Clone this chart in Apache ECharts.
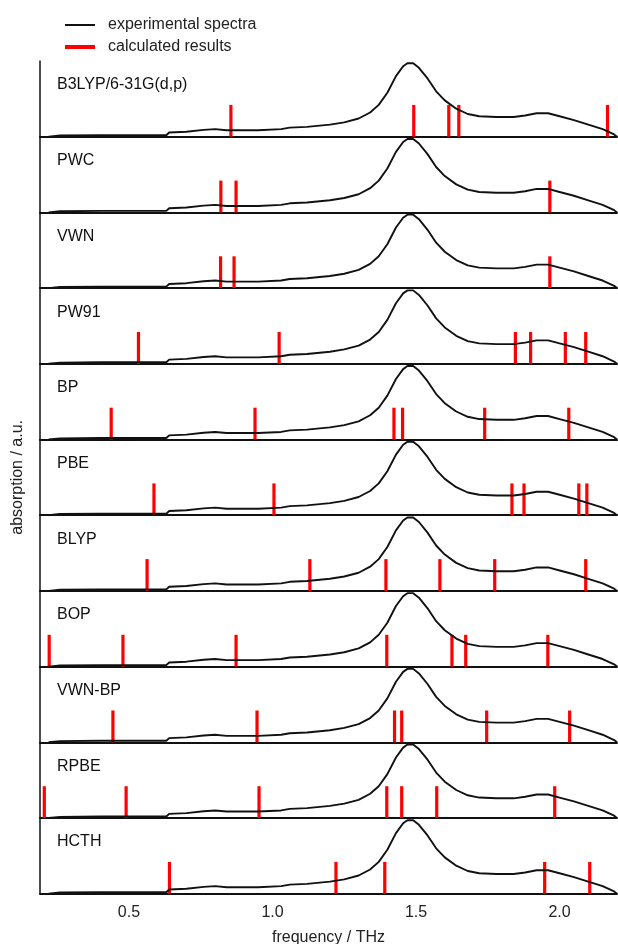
<!DOCTYPE html>
<html>
<head>
<meta charset="utf-8">
<script src="https://cdn.jsdelivr.net/npm/echarts@6/dist/echarts.min.js"></script>
<style>
  html, body { margin: 0; padding: 0; background: #fff; }
  #chart { width: 618px; height: 944px; }
</style>
</head>
<body>
<div id="chart"></div>
<script>
// panel names, top to bottom
var methods = ['B3LYP/6-31G(d,p)', 'PWC', 'VWN', 'PW91', 'BP', 'PBE', 'BLYP', 'BOP', 'VWN-BP', 'RPBE', 'HCTH'];

// experimental spectrum (THz, relative absorption)
var specFreq = [0.22, 0.26, 0.40, 0.63, 0.64, 0.70, 0.76, 0.80, 0.84, 0.95, 1.03, 1.06, 1.12, 1.20, 1.25,
  1.30, 1.34, 1.37, 1.40, 1.43, 1.455, 1.47, 1.49, 1.51, 1.54, 1.57, 1.60, 1.64, 1.68, 1.72,
  1.78, 1.84, 1.88, 1.92, 1.96, 2.00, 2.05, 2.10, 2.15, 2.19, 2.20];
var specAbs = [0.0, 0.015, 0.02, 0.02, 0.055, 0.065, 0.09, 0.10, 0.085, 0.085, 0.10, 0.12, 0.13, 0.16, 0.19,
  0.24, 0.32, 0.42, 0.58, 0.80, 0.93, 0.97, 0.97, 0.91, 0.77, 0.60, 0.48, 0.37, 0.30, 0.27,
  0.26, 0.26, 0.28, 0.31, 0.31, 0.27, 0.22, 0.16, 0.10, 0.03, 0.0];

// calculated frequencies (THz)
var b3lyp = [0.855, 1.492, 1.614, 1.649, 2.167];
var pwc = [0.820, 0.873, 1.966];
var vwn = [0.819, 0.866, 1.966];
var pw91 = [0.533, 1.023, 1.846, 1.899, 2.020, 2.091];
var bp = [0.438, 0.939, 1.423, 1.453, 1.739, 2.032];
var pbe = [0.587, 1.005, 1.834, 1.876, 2.067, 2.095];
var blyp = [0.563, 1.130, 1.395, 1.583, 1.774, 2.091];
var bop = [0.222, 0.479, 0.873, 1.398, 1.625, 1.673, 1.959];
var vwnbp = [0.444, 0.946, 1.425, 1.450, 1.746, 2.035];
var rpbe = [0.205, 0.490, 0.953, 1.398, 1.450, 1.572, 1.983];
var hcth = [0.641, 1.221, 1.391, 1.948, 2.105];
var calculated = [b3lyp, pwc, vwn, pw91, bp, pbe, blyp, bop, vwnbp, rpbe, hcth];

var tickValues = [0.5, 1.0, 1.5, 2.0];

var panelTop = 61;
var panelH = 75.7;
var barH = 0.42;
var font = 'Liberation Sans, Arial, sans-serif';

var chart = echarts.init(document.getElementById('chart'));

var spectrum = specFreq.map(function (f, i) { return [f, specAbs[i]]; });

var grids = [], xAxes = [], yAxes = [], series = [], titles = [];

methods.forEach(function (name, i) {
  var last = i === methods.length - 1;
  // outerBoundsMode none: keep every panel exactly where it is put
  grids.push({ left: 40, width: 577, top: panelTop + i * panelH, height: panelH, outerBoundsMode: 'none', containLabel: false });

  xAxes.push({
    type: 'value', gridIndex: i, min: 0.19, max: 2.2,
    axisLine: { show: true, onZero: false, lineStyle: { color: '#111', width: 2 } },
    axisTick: { show: false },
    splitLine: { show: false },
    axisLabel: last ? {
      show: true, customValues: tickValues, margin: 11,
      color: '#222', fontSize: 16, fontFamily: font,
      formatter: function (v) { return v.toFixed(1); }
    } : { show: false },
    name: last ? 'frequency / THz' : '',
    nameLocation: 'middle', nameGap: 36,
    nameTextStyle: { color: '#222', fontSize: 16, fontFamily: font }
  });

  yAxes.push({
    type: 'value', gridIndex: i, min: 0, max: 1,
    axisLine: { show: true, lineStyle: { color: '#111', width: 1.5 } },
    axisTick: { show: false },
    axisLabel: { show: false },
    splitLine: { show: false },
    name: i === 5 ? 'absorption / a.u.' : '',
    nameLocation: 'middle', nameGap: 14, nameRotate: 90,
    nameTextStyle: { color: '#222', fontSize: 16, fontFamily: font }
  });

  titles.push({
    text: name, left: 52, top: panelTop + i * panelH + 11,
    textStyle: { color: '#111', fontSize: 16, fontWeight: 'normal', fontFamily: font }
  });

  series.push({
    name: 'experimental spectra', type: 'line',
    xAxisIndex: i, yAxisIndex: i,
    data: spectrum, showSymbol: false, symbol: 'none',
    lineStyle: { color: '#111', width: 1.9 },
    itemStyle: { color: '#111' },
    silent: true, animation: false
  });

  series.push({
    name: 'calculated results', type: 'custom',
    xAxisIndex: i, yAxisIndex: i,
    data: calculated[i].map(function (f) { return [f, barH]; }),
    itemStyle: { color: '#ff0000' },
    renderItem: function (params, api) {
      var p0 = api.coord([api.value(0), 0]);
      var p1 = api.coord([api.value(0), api.value(1)]);
      return {
        type: 'rect',
        shape: { x: p0[0] - 1.6, y: p1[1], width: 3.2, height: p0[1] - p1[1] },
        style: { fill: '#ff0000' }
      };
    },
    silent: true, animation: false, z: 3
  });
});

var legendText = { color: '#222', fontSize: 16, fontFamily: font, padding: [0, 0, 0, 8] };

chart.setOption({
  backgroundColor: '#fff',
  animation: false,
  title: titles,
  legend: [
    {
      data: ['experimental spectra'], left: 60, top: 12,
      icon: 'rect', itemWidth: 30, itemHeight: 2,
      itemStyle: { color: '#111' }, textStyle: legendText
    },
    {
      data: ['calculated results'], left: 60, top: 34,
      icon: 'rect', itemWidth: 30, itemHeight: 4,
      itemStyle: { color: '#ff0000' }, textStyle: legendText
    }
  ],
  grid: grids,
  xAxis: xAxes,
  yAxis: yAxes,
  series: series
});
</script>
</body>
</html>
